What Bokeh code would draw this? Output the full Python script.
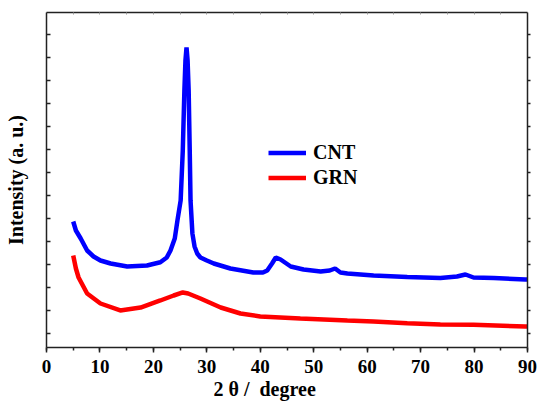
from bokeh.plotting import figure
from bokeh.models import (LinearAxis, SingleIntervalTicker, Range1d,
                          CustomJSTickFormatter, FixedTicker, Title)
from bokeh.embed import file_html
from bokeh.resources import INLINE

# ---- data ----
two_theta_cnt = [5.0, 5.5, 6.4, 7.6, 8.8, 10.1, 12.0, 15.1, 18.8, 21.3, 22.5,
                 23.2, 24.0, 24.5, 25.1, 25.5, 25.8, 26.0, 26.2, 26.4, 26.6,
                 26.8, 26.95, 27.3, 27.7, 28.2, 28.8, 30.0, 31.3, 34.4, 38.7,
                 40.5, 41.3, 42.2, 42.9, 43.8, 45.7, 48.1, 51.3, 53.0, 54.0,
                 55.0, 56.3, 61.2, 67.5, 73.7, 76.8, 78.4, 79.9, 83.7, 89.6, 90.0]
intensity_cnt = [4870, 4478, 4130, 3609, 3348, 3174, 3043, 2913, 2957, 3100, 3304,
                 3609, 4130, 4913, 5783, 7957, 10565, 11870, 12435, 11870, 10565,
                 7957, 5783, 4348, 3783, 3478, 3304, 3174, 3043, 2826, 2652,
                 2652, 2739, 3043, 3304, 3217, 2913, 2783, 2696, 2739, 2826,
                 2652, 2609, 2522, 2457, 2413, 2478, 2565, 2435, 2413, 2348, 2348]

two_theta_grn = [5.0, 5.5, 6.0, 7.6, 10.1, 13.8, 17.6, 21.3, 23.8, 25.5, 26.5,
                 28.8, 32.6, 36.3, 40.0, 47.5, 56.3, 61.2, 67.5, 73.7, 79.9, 89.6, 90.0]
intensity_grn = [3391, 2826, 2435, 1739, 1304, 1000, 1130, 1435, 1652, 1783, 1739,
                 1522, 1130, 870, 739, 652, 565, 522, 448, 391, 378, 304, 300]

x_interval = 10
y_ticks = list(range(0, 13001, 1000))
series_names = ["CNT", "GRN"]
series_colors = ["#0000FF", "#FF0000"]
x_title = "2 θ / \u00a0degree"
y_title = "Intensity (a. u.)"

FONT = "Liberation Serif"
AX = "#222222"

p = figure(width=537, height=403, x_range=Range1d(0, 90),
           y_range=Range1d(-609, 13957), output_backend="svg",
           toolbar_location=None, min_border_left=46, min_border_right=10,
           min_border_top=12, min_border_bottom=56)
p.outline_line_color = None
p.xgrid.visible = False
p.ygrid.visible = False
p.background_fill_color = "white"

p.line(two_theta_cnt, intensity_cnt, line_color=series_colors[0], line_width=4.5,
       legend_label=series_names[0])
p.line(two_theta_grn, intensity_grn, line_color=series_colors[1], line_width=4.5,
       legend_label=series_names[1])

empty = CustomJSTickFormatter(code="return ''")

# bottom axis
xa = p.xaxis[0]
xa.ticker = SingleIntervalTicker(interval=x_interval, num_minor_ticks=2)
xa.major_tick_out = 5
xa.major_tick_in = 0
xa.minor_tick_out = 3
xa.minor_tick_in = 0
xa.axis_line_color = AX
xa.axis_line_width = 1.5
xa.major_tick_line_color = AX
xa.major_tick_line_width = 1.5
xa.minor_tick_line_color = AX
xa.minor_tick_line_width = 1.5
xa.major_label_text_font = FONT
xa.major_label_text_font_style = "bold"
xa.major_label_text_font_size = "19px"
xa.major_label_text_color = "black"
xa.major_label_standoff = 7

# x title (placed left of centre as in the original)
p.add_layout(Title(text=x_title, align="left", offset=167, standoff=0,
                   text_font=FONT, text_font_style="bold", text_font_size="20px",
                   text_color="black"), "below")

# left axis
ya = p.yaxis[0]
ya.ticker = FixedTicker(ticks=y_ticks, minor_ticks=[])
ya.formatter = empty
ya.major_label_text_font_size = "0px"
ya.major_label_standoff = 0
ya.major_tick_in = 4
ya.major_tick_out = 0
ya.minor_tick_line_color = None
ya.axis_line_color = AX
ya.axis_line_width = 1.5
ya.major_tick_line_color = AX
ya.major_tick_line_width = 1.5
ya.axis_label = y_title
ya.axis_label_text_font = FONT
ya.axis_label_text_font_style = "bold"
ya.axis_label_text_font_size = "20px"
ya.axis_label_text_color = "black"
ya.axis_label_standoff = 20

# right axis
ra = LinearAxis(ticker=FixedTicker(ticks=y_ticks, minor_ticks=[]), formatter=empty,
                major_label_text_font_size="0px", major_label_standoff=0,
                major_tick_in=0, major_tick_out=3, minor_tick_line_color=None,
                axis_line_color=AX, axis_line_width=1.5,
                major_tick_line_color=AX, major_tick_line_width=1.5)
p.add_layout(ra, "right")

# top axis
ta = LinearAxis(ticker=SingleIntervalTicker(interval=5, num_minor_ticks=0),
                formatter=empty, major_label_text_font_size="0px",
                major_label_standoff=0, major_tick_in=2, major_tick_out=0,
                minor_tick_line_color=None, axis_line_color=AX, axis_line_width=1.5,
                major_tick_line_color="#999999", major_tick_line_width=1)
p.add_layout(ta, "above")

# legend
lg = p.legend[0]
lg.location = (222, 157)
lg.border_line_color = None
lg.background_fill_alpha = 0
lg.padding = 0
lg.margin = 0
lg.spacing = 0
lg.glyph_width = 38
lg.glyph_height = 25
lg.label_height = 25
lg.label_standoff = 7
lg.label_text_font = FONT
lg.label_text_font_style = "bold"
lg.label_text_font_size = "20px"
lg.label_text_color = "black"

open("out.html", "w").write(file_html(p, INLINE))
